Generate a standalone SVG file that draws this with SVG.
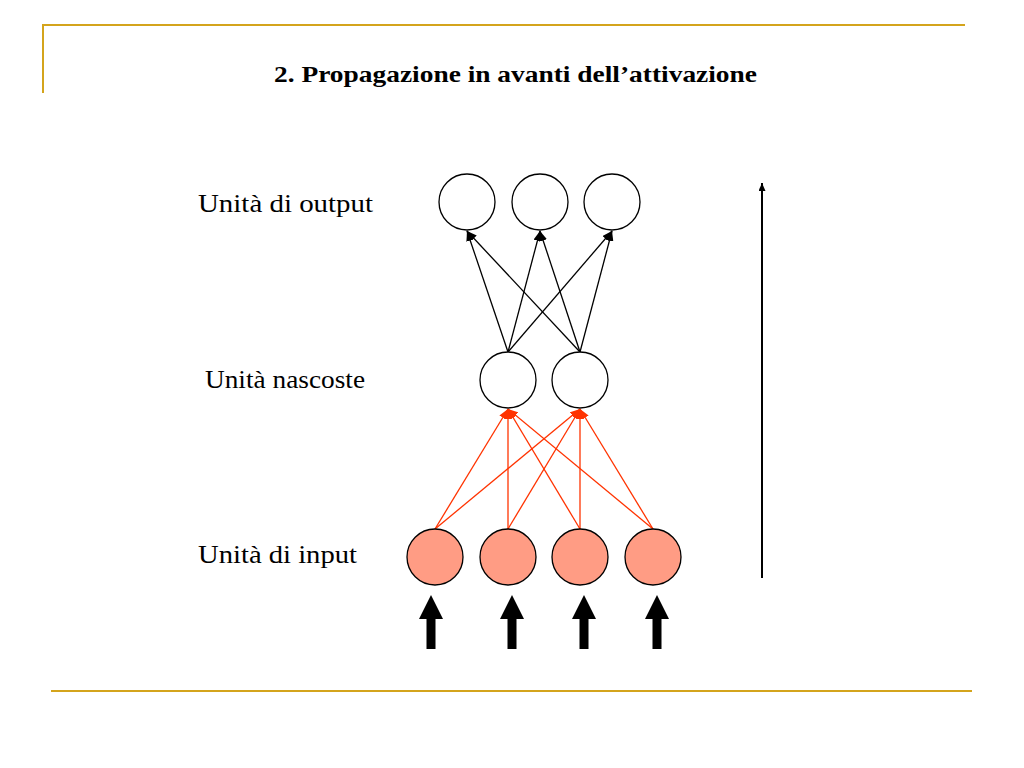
<svg xmlns="http://www.w3.org/2000/svg" width="1024" height="768" viewBox="0 0 1024 768">
<style>
.lbl{font-family:"Liberation Serif","DejaVu Serif",serif;font-size:26px;fill:#000}
.title{font-family:"Liberation Serif","DejaVu Serif",serif;font-size:23px;font-weight:bold;fill:#000}
.gold{stroke:#D4A41C;stroke-width:2;fill:none}
.wn{fill:#fff;stroke:#000;stroke-width:1.3}
.inn{fill:#FF9C84;stroke:#000;stroke-width:1.3}
.bk{stroke:#000;stroke-width:1.3;fill:none;marker-end:url(#ab)}
.rd{stroke:#FF3300;stroke-width:1.3;fill:none;marker-end:url(#ar)}
.big{fill:#000}
</style>
<defs>
<marker id="ab" markerUnits="userSpaceOnUse" markerWidth="10" markerHeight="8" refX="10" refY="4" orient="auto"><path d="M0,0 L10,4 L0,8 z" fill="#000"/></marker>
<marker id="ar" markerUnits="userSpaceOnUse" markerWidth="10" markerHeight="8" refX="10" refY="4" orient="auto"><path d="M0,0 L10,4 L0,8 z" fill="#FF3300"/></marker>
<marker id="at" markerUnits="userSpaceOnUse" markerWidth="8" markerHeight="8" refX="8" refY="3.5" orient="auto"><path d="M0,0 L8,3.5 L0,7 z" fill="#000"/></marker>
</defs>
<g id="frame">
<line class="gold" x1="42" y1="25" x2="965" y2="25"/>
<line class="gold" x1="43" y1="25" x2="43" y2="93"/>
<line class="gold" x1="51" y1="691" x2="972" y2="691"/>
</g>
<text id="title" class="title" x="274" y="82" textLength="483" lengthAdjust="spacingAndGlyphs">2. Propagazione in avanti dell’attivazione</text>
<g id="labels">
<text class="lbl" x="198" y="212" textLength="175" lengthAdjust="spacingAndGlyphs">Unità di output</text>
<text class="lbl" x="205" y="388" textLength="160" lengthAdjust="spacingAndGlyphs">Unità nascoste</text>
<text class="lbl" x="198" y="563" textLength="159" lengthAdjust="spacingAndGlyphs">Unità di input</text>
</g>
<g id="connectors">
<line class="bk" x1="508" y1="352" x2="467" y2="231"/>
<line class="bk" x1="508" y1="352" x2="540" y2="231"/>
<line class="bk" x1="508" y1="352" x2="612" y2="231"/>
<line class="bk" x1="580" y1="352" x2="467" y2="231"/>
<line class="bk" x1="580" y1="352" x2="540" y2="231"/>
<line class="bk" x1="580" y1="352" x2="612" y2="231"/>
<line class="rd" x1="435" y1="529" x2="508" y2="409"/>
<line class="rd" x1="435" y1="529" x2="580" y2="409"/>
<line class="rd" x1="508" y1="529" x2="508" y2="409"/>
<line class="rd" x1="508" y1="529" x2="580" y2="409"/>
<line class="rd" x1="580" y1="529" x2="508" y2="409"/>
<line class="rd" x1="580" y1="529" x2="580" y2="409"/>
<line class="rd" x1="653" y1="529" x2="508" y2="409"/>
<line class="rd" x1="653" y1="529" x2="580" y2="409"/>
<line stroke="#000" stroke-width="2" x1="762" y1="578" x2="762" y2="183" marker-end="url(#at)"/>
</g>
<g id="output-1"><circle class="wn" cx="467" cy="202" r="28"/></g>
<g id="output-2"><circle class="wn" cx="540" cy="202" r="28"/></g>
<g id="output-3"><circle class="wn" cx="612" cy="202" r="28"/></g>
<g id="hidden-1"><circle class="wn" cx="508" cy="380" r="28"/></g>
<g id="hidden-2"><circle class="wn" cx="580" cy="380" r="28"/></g>
<g id="input-1"><circle class="inn" cx="435" cy="557" r="28"/></g>
<g id="input-2"><circle class="inn" cx="508" cy="557" r="28"/></g>
<g id="input-3"><circle class="inn" cx="580" cy="557" r="28"/></g>
<g id="input-4"><circle class="inn" cx="653" cy="557" r="28"/></g>
<g id="input-arrows">
<polygon class="big" points="431,595 443,619 435.5,619 435.5,649 426.5,649 426.5,619 419,619"/>
<polygon class="big" points="512,595 524,619 516.5,619 516.5,649 507.5,649 507.5,619 500,619"/>
<polygon class="big" points="584,595 596,619 588.5,619 588.5,649 579.5,649 579.5,619 572,619"/>
<polygon class="big" points="657,595 669,619 661.5,619 661.5,649 652.5,649 652.5,619 645,619"/>
</g>
</svg>
